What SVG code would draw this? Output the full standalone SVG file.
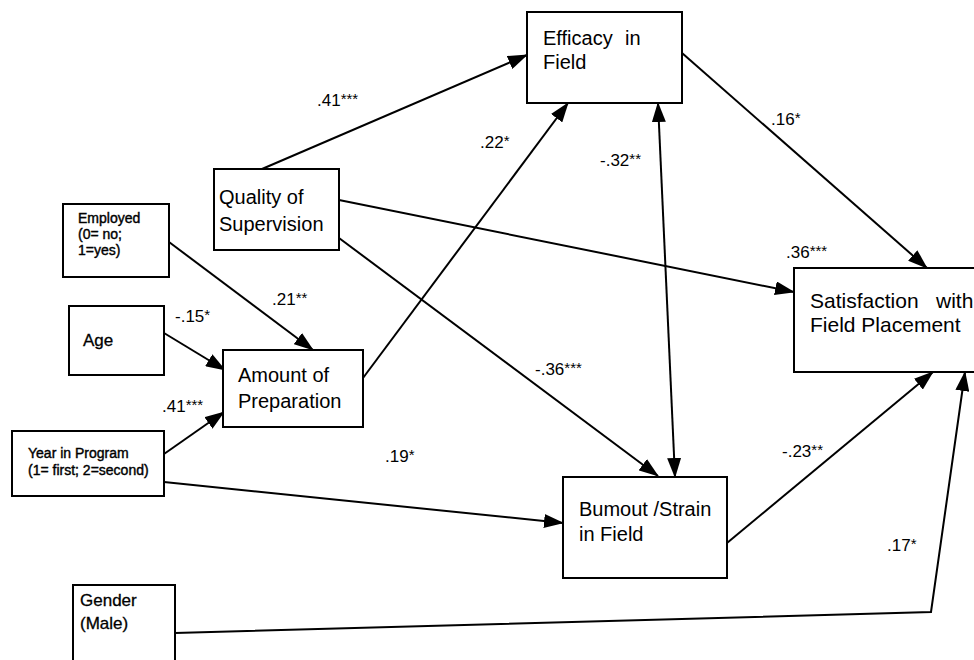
<svg xmlns="http://www.w3.org/2000/svg" width="974" height="660" viewBox="0 0 974 660">
<style>
.box{fill:#fff;stroke:#000;stroke-width:2}
.t{font-family:"Liberation Sans",Arial,sans-serif;fill:#000}
.big{font-size:20px}
.sm{font-size:14px;stroke:#000;stroke-width:0.4}
.md{font-size:17px;stroke:#000;stroke-width:0.3}
.lab{font-family:"Liberation Sans",Arial,sans-serif;font-size:17px;fill:#000}
.ast{font-size:15px}
.c{fill:none;stroke:#000;stroke-width:2}
</style>
<defs>
<marker id="ah" markerUnits="userSpaceOnUse" markerWidth="20" markerHeight="14" refX="19" refY="7" orient="auto-start-reverse">
<path d="M0,0 L20,7 L0,14 z" fill="#000"/>
</marker>
</defs>
<rect width="974" height="660" fill="#fff"/>
<g id="connectors">
<line class="c" x1="262" y1="169" x2="527" y2="55" marker-end="url(#ah)"/>
<line class="c" x1="363" y1="378" x2="568" y2="103" marker-end="url(#ah)"/>
<line class="c" x1="658" y1="103" x2="675" y2="477" marker-start="url(#ah)" marker-end="url(#ah)"/>
<line class="c" x1="682" y1="53" x2="927" y2="268" marker-end="url(#ah)"/>
<line class="c" x1="339" y1="200" x2="794" y2="292" marker-end="url(#ah)"/>
<line class="c" x1="339" y1="238" x2="658" y2="476" marker-end="url(#ah)"/>
<line class="c" x1="169" y1="242" x2="313" y2="350" marker-end="url(#ah)"/>
<line class="c" x1="164" y1="333" x2="225" y2="370" marker-end="url(#ah)"/>
<line class="c" x1="164" y1="454" x2="224" y2="412" marker-end="url(#ah)"/>
<line class="c" x1="164" y1="482" x2="563" y2="523" marker-end="url(#ah)"/>
<line class="c" x1="727" y1="543" x2="933" y2="372" marker-end="url(#ah)"/>
<polyline class="c" points="175,633 931,612 965,372" marker-end="url(#ah)"/>
<text class="lab" x="317" y="106">.41<tspan class="ast" dy="-2">***</tspan></text>
<text class="lab" x="480" y="148">.22<tspan class="ast" dy="-2">*</tspan></text>
<text class="lab" x="600" y="166">-.32<tspan class="ast" dy="-2">**</tspan></text>
<text class="lab" x="771" y="125">.16<tspan class="ast" dy="-2">*</tspan></text>
<text class="lab" x="786" y="258">.36<tspan class="ast" dy="-2">***</tspan></text>
<text class="lab" x="535" y="375">-.36<tspan class="ast" dy="-2">***</tspan></text>
<text class="lab" x="272" y="305">.21<tspan class="ast" dy="-2">**</tspan></text>
<text class="lab" x="175" y="322">-.15<tspan class="ast" dy="-2">*</tspan></text>
<text class="lab" x="162" y="412">.41<tspan class="ast" dy="-2">***</tspan></text>
<text class="lab" x="385" y="462">.19<tspan class="ast" dy="-2">*</tspan></text>
<text class="lab" x="782" y="457">-.23<tspan class="ast" dy="-2">**</tspan></text>
<text class="lab" x="887" y="551">.17<tspan class="ast" dy="-2">*</tspan></text>
</g>
<g id="efficacy">
<rect class="box" x="527" y="12" width="155" height="91"/>
<text class="t big" x="543" y="45">Efficacy<tspan x="625">in</tspan></text>
<text class="t big" x="543" y="69">Field</text>
</g>
<g id="quality">
<rect class="box" x="214" y="169" width="125" height="81"/>
<text class="t big" x="219" y="204">Quality of</text>
<text class="t big" x="219" y="231">Supervision</text>
</g>
<g id="employed">
<rect class="box" x="63" y="204" width="106" height="73"/>
<text class="t sm" x="78" y="223">Employed</text>
<text class="t sm" x="78" y="239">(0= no;</text>
<text class="t sm" x="78" y="255">1=yes)</text>
</g>
<g id="age">
<rect class="box" x="69" y="306" width="95" height="69"/>
<text class="t md" x="83" y="346">Age</text>
</g>
<g id="amount">
<rect class="box" x="223" y="350" width="140" height="77"/>
<text class="t big" x="238" y="382">Amount of</text>
<text class="t big" x="238" y="408">Preparation</text>
</g>
<g id="year">
<rect class="box" x="12" y="431" width="152" height="65"/>
<text class="t sm" x="28" y="458">Year in Program</text>
<text class="t sm" x="28" y="475">(1= first; 2=second)</text>
</g>
<g id="burnout">
<rect class="box" x="563" y="477" width="164" height="101"/>
<text class="t big" x="579" y="516">Bumout /Strain</text>
<text class="t big" x="579" y="541">in Field</text>
</g>
<g id="satisfaction">
<rect class="box" x="794" y="268" width="190" height="104"/>
<text class="t" style="font-size:21px" x="810" y="308">Satisfaction<tspan x="936">with</tspan></text>
<text class="t" style="font-size:21px" x="810" y="332">Field Placement</text>
</g>
<g id="gender">
<rect class="box" x="73" y="585" width="102" height="90"/>
<text class="t md" x="80" y="606">Gender</text>
<text class="t md" x="80" y="629">(Male)</text>
</g>
</svg>
